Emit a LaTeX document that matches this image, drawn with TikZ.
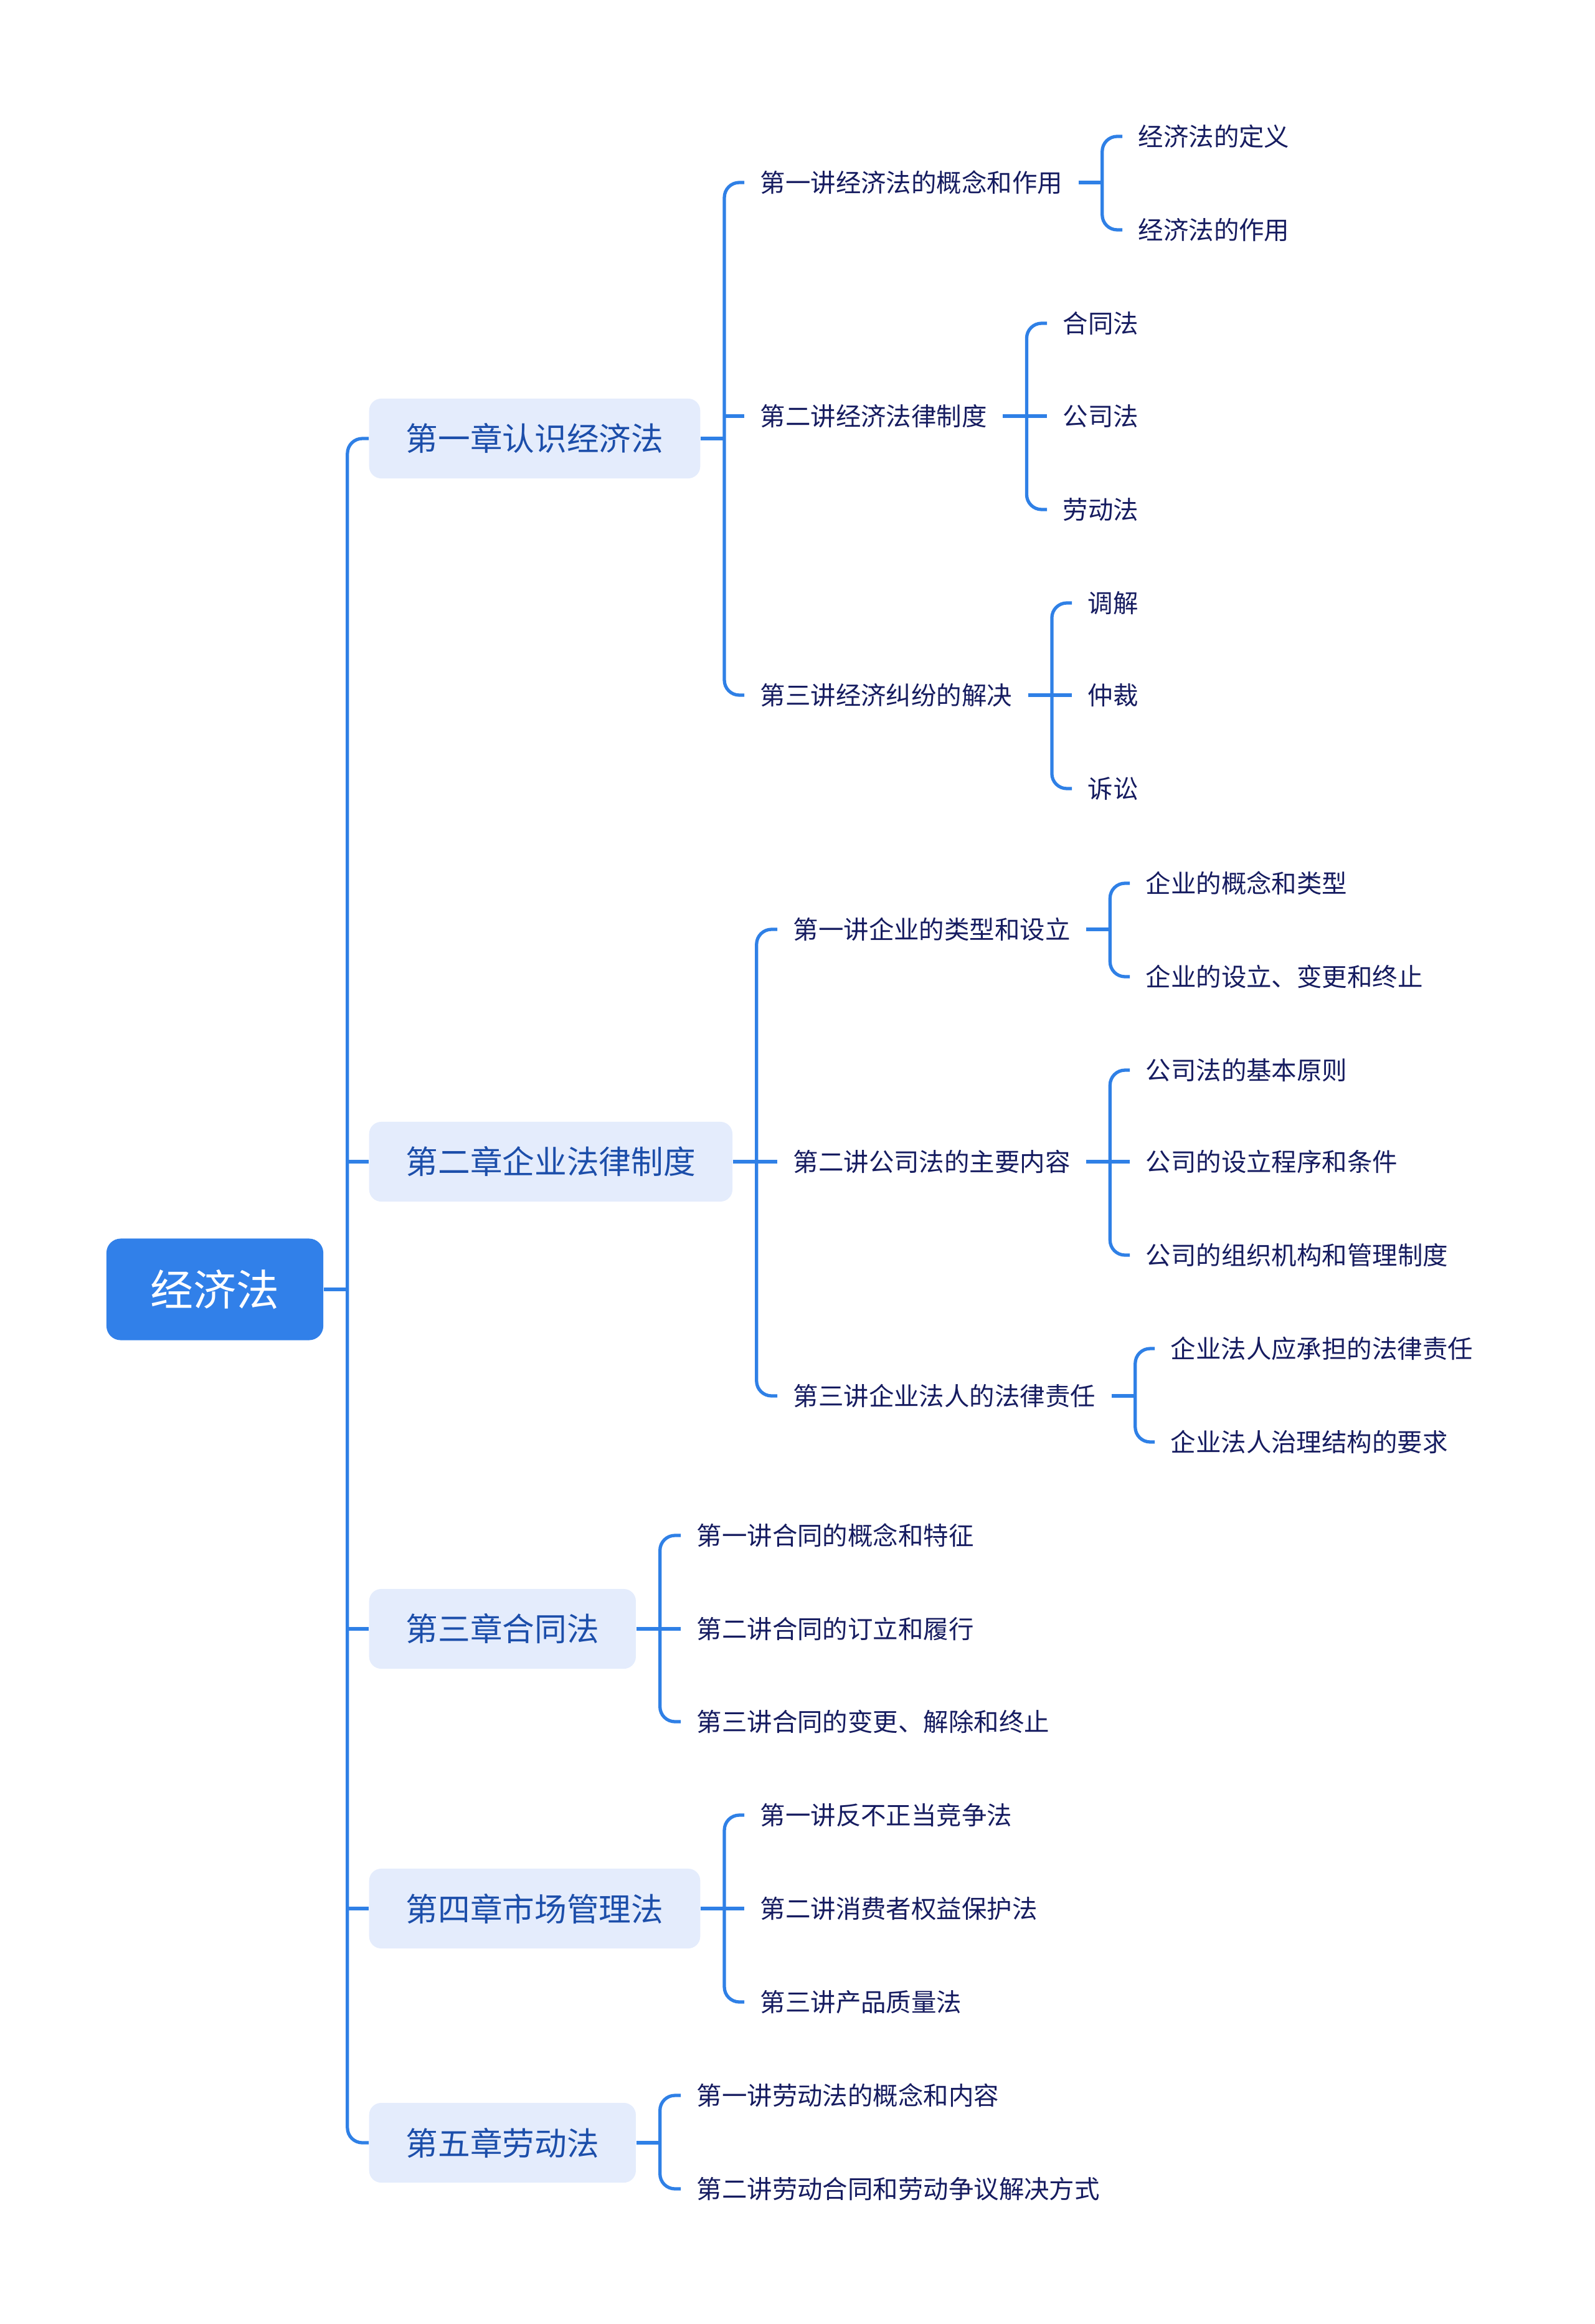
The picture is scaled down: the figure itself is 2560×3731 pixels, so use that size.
\documentclass[tikz,border=0pt]{standalone}
\usepackage{fontspec}
\setmainfont{Noto Sans CJK SC}
\usetikzlibrary{positioning}
\definecolor{lineblue}{RGB}{47,128,230}
\definecolor{rootblue}{RGB}{49,128,233}
\definecolor{chapfill}{RGB}{228,236,252}
\definecolor{chaptext}{RGB}{28,78,170}
\definecolor{navy}{RGB}{22,28,96}

\begin{document}
\begin{tikzpicture}[x=0.01cm,y=-0.01cm,
 root/.style={rounded corners=6.5pt,fill=rootblue,text=white,minimum width=3.48cm,minimum height=1.63cm,font=\fontsize{19.6pt}{22pt}\selectfont},
 chap/.style={rounded corners=5.5pt,fill=chapfill,text=chaptext,anchor=west,inner xsep=.59cm,minimum height=1.28cm,font=\fontsize{14.7pt}{18pt}\selectfont},
 item/.style={anchor=west,text=navy,inner xsep=.25cm,inner ysep=4pt,font=\fontsize{11.5pt}{14pt}\selectfont},
 link/.style={draw=lineblue,line width=1.5pt,rounded corners=.24cm}]
\useasboundingbox (0,0) rectangle (2560,3731);
% root and chapters
\node[root] (law) at (345,2070) {经济法};
\node[chap] (ch1) at (592,704) {第一章认识经济法};
\node[chap] (ch2) at (592,1865) {第二章企业法律制度};
\node[chap] (ch3) at (592,2615) {第三章合同法};
\node[chap] (ch4) at (592,3064) {第四章市场管理法};
\node[chap] (ch5) at (592,3440) {第五章劳动法};
% chapter 1
\node[item] (s11) at (1195,293) {第一讲经济法的概念和作用};
\node[item] (s12) at (1195,668) {第二讲经济法律制度};
\node[item] (s13) at (1195,1116) {第三讲经济纠纷的解决};
\node[item] (t111) at (1802,219) {经济法的定义};
\node[item] (t112) at (1802,369) {经济法的作用};
\node[item] (t121) at (1681,519) {合同法};
\node[item] (t122) at (1681,668) {公司法};
\node[item] (t123) at (1681,818) {劳动法};
\node[item] (t131) at (1721,968) {调解};
\node[item] (t132) at (1721,1116) {仲裁};
\node[item] (t133) at (1721,1266) {诉讼};
% chapter 2
\node[item] (s21) at (1248,1492) {第一讲企业的类型和设立};
\node[item] (s22) at (1248,1865) {第二讲公司法的主要内容};
\node[item] (s23) at (1248,2241) {第三讲企业法人的法律责任};
\node[item] (t211) at (1814,1418) {企业的概念和类型};
\node[item] (t212) at (1814,1568) {企业的设立、变更和终止};
\node[item] (t221) at (1814,1718) {公司法的基本原则};
\node[item] (t222) at (1814,1865) {公司的设立程序和条件};
\node[item] (t223) at (1814,2015) {公司的组织机构和管理制度};
\node[item] (t231) at (1854,2165) {企业法人应承担的法律责任};
\node[item] (t232) at (1854,2315) {企业法人治理结构的要求};
% chapters 3-5
\node[item] (s31) at (1093,2465) {第一讲合同的概念和特征};
\node[item] (s32) at (1093,2615) {第二讲合同的订立和履行};
\node[item] (s33) at (1093,2764) {第三讲合同的变更、解除和终止};
\node[item] (s41) at (1195,2914) {第一讲反不正当竞争法};
\node[item] (s42) at (1195,3064) {第二讲消费者权益保护法};
\node[item] (s43) at (1195,3214) {第三讲产品质量法};
\node[item] (s51) at (1093,3364) {第一讲劳动法的概念和内容};
\node[item] (s52) at (1093,3514) {第二讲劳动合同和劳动争议解决方式};
% brackets
\coordinate (k0) at ([xshift=.38cm]law.east);
\draw[link](law.east)--(k0);\draw[link](ch1.west)--(k0|-ch1.west)--(k0|-ch5.west)--(ch5.west);
\foreach \c in {ch2,ch3,ch4} \draw[link](k0|-\c.west)--(\c.west);
\coordinate (k1) at ([xshift=.38cm]ch1.east);
\draw[link](ch1.east)--(k1);\draw[link](s11.west)--(k1|-s11.west)--(k1|-s13.west)--(s13.west);\draw[link](k1|-s12.west)--(s12.west);
\coordinate (k2) at ([xshift=.38cm]ch2.east);
\draw[link](ch2.east)--(k2);\draw[link](s21.west)--(k2|-s21.west)--(k2|-s23.west)--(s23.west);\draw[link](k2|-s22.west)--(s22.west);
\coordinate (k3) at ([xshift=.38cm]ch3.east);
\draw[link](ch3.east)--(k3);\draw[link](s31.west)--(k3|-s31.west)--(k3|-s33.west)--(s33.west);\draw[link](k3|-s32.west)--(s32.west);
\coordinate (k4) at ([xshift=.38cm]ch4.east);
\draw[link](ch4.east)--(k4);\draw[link](s41.west)--(k4|-s41.west)--(k4|-s43.west)--(s43.west);\draw[link](k4|-s42.west)--(s42.west);
\coordinate (k5) at ([xshift=.38cm]ch5.east);
\draw[link](ch5.east)--(k5);\draw[link](s51.west)--(k5|-s51.west)--(k5|-s52.west)--(s52.west);
% lectures
\coordinate (k11) at ([xshift=.38cm]s11.east);
\draw[link](s11.east)--(k11);\draw[link](t111.west)--(k11|-t111.west)--(k11|-t112.west)--(t112.west);
\coordinate (k12) at ([xshift=.38cm]s12.east);
\draw[link](s12.east)--(k12);\draw[link](t121.west)--(k12|-t121.west)--(k12|-t123.west)--(t123.west);\draw[link](k12|-t122.west)--(t122.west);
\coordinate (k13) at ([xshift=.38cm]s13.east);
\draw[link](s13.east)--(k13);\draw[link](t131.west)--(k13|-t131.west)--(k13|-t133.west)--(t133.west);\draw[link](k13|-t132.west)--(t132.west);
\coordinate (k21) at ([xshift=.38cm]s21.east);
\draw[link](s21.east)--(k21);\draw[link](t211.west)--(k21|-t211.west)--(k21|-t212.west)--(t212.west);
\coordinate (k22) at ([xshift=.38cm]s22.east);
\draw[link](s22.east)--(k22);\draw[link](t221.west)--(k22|-t221.west)--(k22|-t223.west)--(t223.west);\draw[link](k22|-t222.west)--(t222.west);
\coordinate (k23) at ([xshift=.38cm]s23.east);
\draw[link](s23.east)--(k23);\draw[link](t231.west)--(k23|-t231.west)--(k23|-t232.west)--(t232.west);
\end{tikzpicture}
\end{document}
